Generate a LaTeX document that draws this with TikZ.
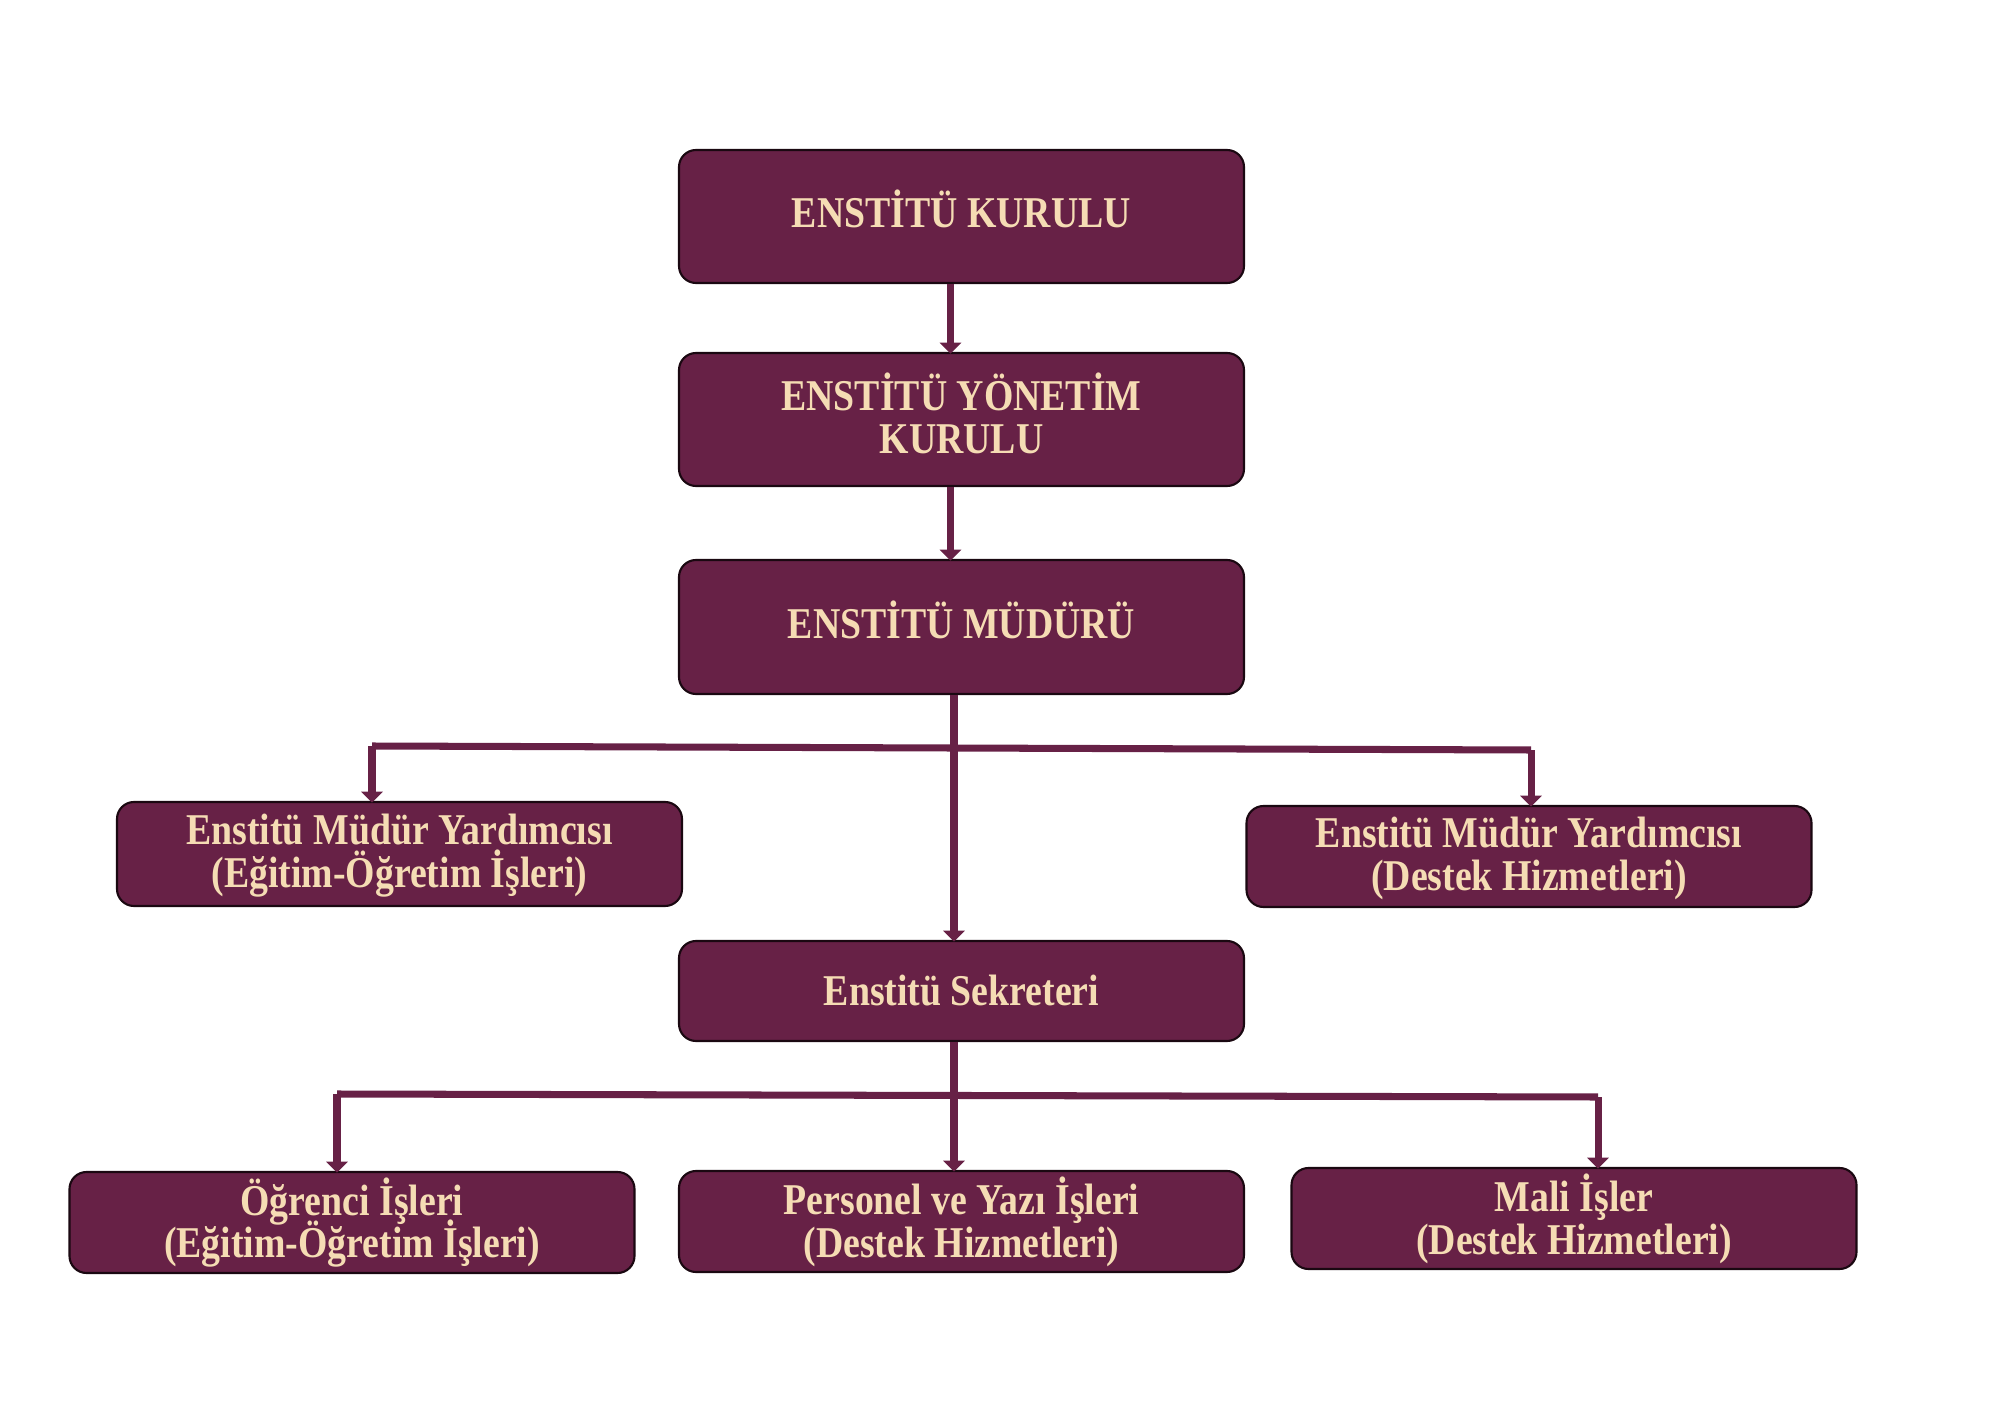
\documentclass[tikz,border=0pt]{standalone}
\usepackage{fontspec}
\newfontfamily\boxfont{Liberation Serif}[FakeStretch=0.86]
\usepackage{xcolor}
\usetikzlibrary{positioning,calc,arrows.meta}

\definecolor{maroon}{HTML}{672146}
\definecolor{cream}{HTML}{F5DCB4}
\setlength{\lineskiplimit}{-20pt}

\begin{document}
\begin{tikzpicture}[
    unit/.style={draw=black!75!maroon, line width=0.6pt, fill=maroon, rounded corners=0.17cm,
        text=cream, align=center, minimum width=5.65cm, inner ysep=1pt,
        font=\boxfont\bfseries\fontsize{12.5}{12.2}\selectfont},
    capsline/.style={text height=6.5pt, text depth=0pt},
    link/.style={maroon, line width=2pt},
    arrow/.style={link, -{Triangle[width=0.21cm, length=0.11cm]}, shorten >=-0.5pt}
]
    \useasboundingbox (0,0) rectangle (20,-14.15);

    % Boxes
    \node[unit, capsline, minimum height=1.33cm] (kurul) at (9.615,-2.165) {ENSTİTÜ KURULU};
    \node[unit, text depth=3.5pt, minimum height=1.33cm] (yonetim) at (9.615,-4.195) {ENSTİTÜ YÖNETİM\\KURULU};
    \node[unit, capsline, minimum height=1.34cm] (mudur) at (9.615,-6.27) {ENSTİTÜ MÜDÜRÜ};
    \node[unit, text height=22pt, minimum height=1.04cm] (yrdEgitim) at (3.995,-8.54) {Enstitü Müdür Yardımcısı\\(Eğitim-Öğretim İşleri)};
    \node[unit, text height=22pt, minimum height=1.01cm] (yrdDestek) at (15.29,-8.565) {Enstitü Müdür Yardımcısı\\(Destek Hizmetleri)};
    \node[unit, minimum height=1.00cm] (sekreter) at (9.615,-9.91) {Enstitü Sekreteri};
    \node[unit, minimum height=1.01cm] (ogrenci) at (3.52,-12.225) {Öğrenci İşleri\\(Eğitim-Öğretim İşleri)};
    \node[unit, minimum height=1.01cm] (personel) at (9.615,-12.215) {Personel ve Yazı İşleri\\(Destek Hizmetleri)};
    \node[unit, minimum height=1.01cm] (mali) at (15.74,-12.185) {Mali İşler\\(Destek Hizmetleri)};

    % Upper chain
    \draw[arrow] ([xshift=-0.11cm]kurul.south) -- ([xshift=-0.11cm]yonetim.north);
    \draw[arrow] ([xshift=-0.11cm]yonetim.south) -- ([xshift=-0.11cm]mudur.north);

    % Director to deputies and secretary
    \coordinate (dl) at (3.72,-7.46);
    \coordinate (dr) at (15.31,-7.50);
    \draw[link] (dl) -- (dr);
    \draw[arrow] (dl) -- (dl |- yrdEgitim.north);
    \draw[arrow] (dr) -- (dr |- yrdDestek.north);
    \draw[arrow] ([xshift=-0.075cm]mudur.south) -- ([xshift=-0.075cm]sekreter.north);

    % Secretary to units
    \coordinate (sl) at (3.37,-10.94);
    \coordinate (sr) at (15.98,-10.97);
    \draw[link] (sl) -- (sr);
    \draw[arrow] (sl) -- (sl |- ogrenci.north);
    \draw[arrow] (sr) -- (sr |- mali.north);
    \draw[arrow] ([xshift=-0.075cm]sekreter.south) -- ([xshift=-0.075cm]personel.north);
\end{tikzpicture}
\end{document}
